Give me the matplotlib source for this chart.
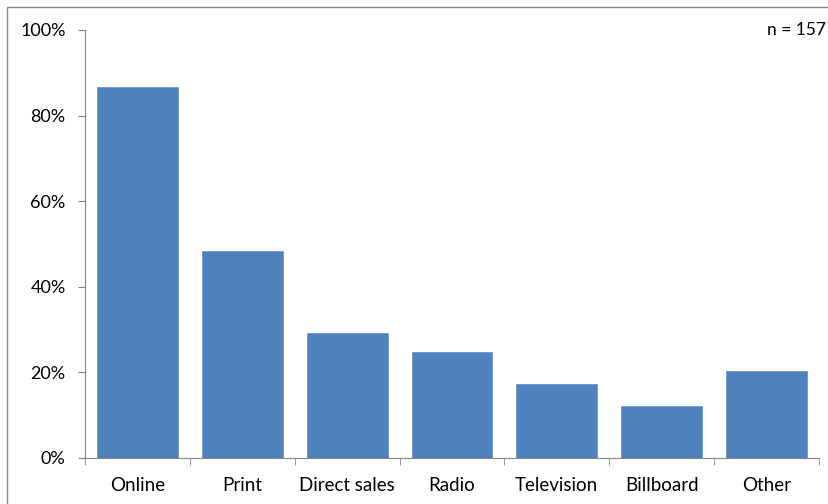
import numpy as np
import matplotlib.pyplot as plt
from matplotlib.patches import Rectangle
from matplotlib.ticker import FuncFormatter, FixedLocator

# Share of respondents using each advertising channel (n = 157)
channels = ["Online", "Print", "Direct sales", "Radio", "Television", "Billboard", "Other"]
shares = [86.6, 48.4, 29.3, 24.8, 17.2, 12.1, 20.4]

plt.rcParams['font.family'] = ['Lato', 'DejaVu Sans']
axis_grey = '#868686'

fig = plt.figure(figsize=(8.29, 5.04), dpi=100)
fig.patches.append(Rectangle((7 / 829, -0.1), 1.2, 1.1 - 7 / 504,
                             transform=fig.transFigure, fill=False,
                             edgecolor=axis_grey, linewidth=1))

ax = fig.add_axes([85 / 829, 1 - 458 / 504, (819 - 85) / 829, (458 - 30) / 504])
x = np.arange(len(channels))
ax.bar(x, shares, width=0.77, color='#4F81BD', edgecolor='#6f97c8', linewidth=0.6)

ax.set_xlim(-0.5, len(channels) - 0.5)
ax.set_ylim(0, 100)
ax.set_yticks(range(0, 101, 20))
ax.yaxis.set_major_formatter(FuncFormatter(lambda v, p: f"{int(v)}%"))

ax.set_xticks(x)
ax.set_xticklabels(channels)
ax.xaxis.set_minor_locator(FixedLocator(np.arange(-0.5, len(channels), 1.0)))
ax.tick_params(axis='x', which='major', length=0, pad=14, labelsize=13.5)
ax.tick_params(axis='x', which='minor', length=5, color=axis_grey, direction='out')
ax.tick_params(axis='y', length=5, color=axis_grey, pad=9, labelsize=13)

for side in ['top', 'right']:
    ax.spines[side].set_visible(False)
for side in ['left', 'bottom']:
    ax.spines[side].set_color(axis_grey)

fig.text(826 / 829, 1 - 30 / 504, "n = 157", ha='right', va='center', fontsize=12.5)

fig.savefig("out.png", dpi=100)
